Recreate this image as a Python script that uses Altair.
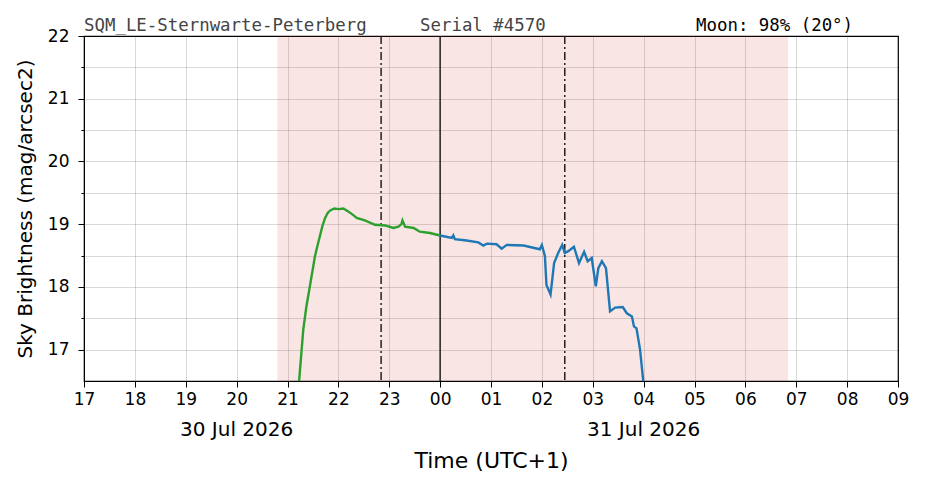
import altair as alt
import pandas as pd

# labels
STATION = "SQM_LE-Sternwarte-Peterberg"
SERIAL = "Serial #4570"
MOON = "Moon: 98% (20°)"
DATE_HOURS = [20, 28]
DATE_LABELS = ["30 Jul 2026", "31 Jul 2026"]

# time in hours (next day = +24)
NIGHT_START = [20.80]
NIGHT_END = [30.84]
MIDNIGHT = [24.0]
TWILIGHT = [22.84, 26.45]

# sky brightness, evening part (green)
GREEN_T = [21.20, 21.23, 21.31, 21.37, 21.44, 21.54, 21.59, 21.64, 21.69, 21.74,
           21.79, 21.84, 21.92, 22.00, 22.10, 22.20, 22.30, 22.36, 22.52, 22.72,
           22.92, 23.08, 23.18, 23.24, 23.26, 23.31, 23.48, 23.60, 23.80, 24.00]
GREEN_V = [16.40, 16.52, 17.32, 17.68, 18.01, 18.49, 18.66, 18.82, 18.98, 19.10,
           19.18, 19.22, 19.25, 19.24, 19.25, 19.20, 19.14, 19.10, 19.06, 18.99,
           18.98, 18.94, 18.96, 19.00, 19.06, 18.96, 18.94, 18.88, 18.86, 18.82]

# sky brightness, after midnight (blue)
BLUE_T = [24.00, 24.23, 24.26, 24.29, 24.52, 24.75, 24.85, 24.92, 25.11, 25.21,
          25.31, 25.64, 25.96, 26.00, 26.06, 26.09, 26.17, 26.20, 26.24, 26.32,
          26.40, 26.45, 26.52, 26.63, 26.73, 26.83, 26.90, 26.98, 27.06, 27.11,
          27.18, 27.26, 27.34, 27.44, 27.59, 27.67, 27.77, 27.81, 27.86, 27.93,
          27.99, 28.02]
BLUE_V = [18.82, 18.78, 18.82, 18.76, 18.74, 18.71, 18.66, 18.69, 18.68, 18.61,
          18.67, 18.66, 18.60, 18.67, 18.49, 18.03, 17.88, 18.09, 18.38, 18.54,
          18.67, 18.54, 18.57, 18.64, 18.38, 18.56, 18.41, 18.46, 18.01, 18.30,
          18.41, 18.30, 17.61, 17.67, 17.68, 17.58, 17.53, 17.37, 17.34, 17.00,
          16.52, 16.30]

W, H = 814, 345
FONT = "DejaVu Sans"
MONO = "DejaVu Sans Mono"

x_scale = alt.Scale(domain=[17, 33], nice=False, zero=False)
y_scale = alt.Scale(domain=[16.5, 22], nice=False, zero=False)

x_axis = alt.Axis(
    values=list(range(17, 34)),
    labelExpr="(datum.value % 24 < 10 ? '0' : '') + (datum.value % 24)",
    title="Time (UTC+1)",
    titleFont=FONT, titleFontSize=22, titleFontWeight="normal", titleColor="black",
    titlePadding=43,
    labelFont=FONT, labelFontSize=17, labelColor="black", labelPadding=4,
    labelFlush=False,
    tickSize=6, tickColor="black", domainColor="black",
    gridColor="black", gridOpacity=0.25, gridWidth=0.6,
)
y_axis = alt.Axis(
    values=[v / 2 for v in range(34, 45)],
    labelExpr="datum.value % 1 === 0 ? format(datum.value, 'd') : ''",
    title="Sky Brightness (mag/arcsec2)",
    titleFont=FONT, titleFontSize=20, titleFontWeight="normal", titleColor="black",
    titlePadding=12,
    labelFont=FONT, labelFontSize=17, labelColor="black", labelPadding=9,
    labelFlush=False,
    tickSize={"condition": {"test": "datum.value % 1 === 0", "value": 6}, "value": 3},
    tickColor="black", domainColor="black",
    gridColor="black", gridOpacity=0.25, gridWidth=0.6,
)


def xenc(field):
    return alt.X(f"{field}:Q", scale=x_scale, axis=x_axis)


curves = pd.concat([
    pd.DataFrame({"t": GREEN_T, "v": GREEN_V, "part": "evening"}),
    pd.DataFrame({"t": BLUE_T, "v": BLUE_V, "part": "night"}),
])

band = alt.Chart(pd.DataFrame({"a": NIGHT_START, "b": NIGHT_END})).mark_rect(
    color="#d62728", opacity=0.12
).encode(x=xenc("a"), x2="b")

mid = alt.Chart(pd.DataFrame({"t": MIDNIGHT})).mark_rule(
    color="#222222", strokeWidth=1.5
).encode(x=xenc("t"))

twi = alt.Chart(pd.DataFrame({"t": TWILIGHT})).mark_rule(
    color="#222222", strokeWidth=1.5, strokeDash=[8, 3, 2, 3]
).encode(x=xenc("t"))

lines = alt.Chart(curves).mark_line(strokeWidth=2.4, clip=True).encode(
    x=xenc("t"),
    y=alt.Y("v:Q", scale=y_scale, axis=y_axis),
    color=alt.Color("part:N", scale=alt.Scale(domain=["evening", "night"],
                                              range=["#2ca02c", "#1f77b4"]), legend=None),
    detail="part:N",
)

dates = alt.Chart(pd.DataFrame({"h": DATE_HOURS, "label": DATE_LABELS})).mark_text(
    font=FONT, fontSize=20, color="black", baseline="middle", align="center"
).encode(x=xenc("h"), y=alt.value(H + 49), text="label:N")


def top_text(txt, xpos, color):
    return alt.Chart(pd.DataFrame({"label": [txt]})).mark_text(
        font=MONO, fontSize=17.4, color=color, align="left", baseline="alphabetic"
    ).encode(x=alt.value(xpos), y=alt.value(-5), text="label:N")


chart = alt.layer(
    band, mid, twi, lines, dates,
    top_text(STATION, 0, "#444444"),
    top_text(SERIAL, 336, "#444444"),
    top_text(MOON, 612, "black"),
).properties(
    width=W, height=H,
    autosize=alt.AutoSizeParams(type="none"),
    padding={"left": 76, "top": 28, "right": 20, "bottom": 99},
    background="white",
).configure_view(stroke="black", strokeWidth=1.2)

chart.save("out.html", embed_options={"renderer": "svg", "actions": False})
